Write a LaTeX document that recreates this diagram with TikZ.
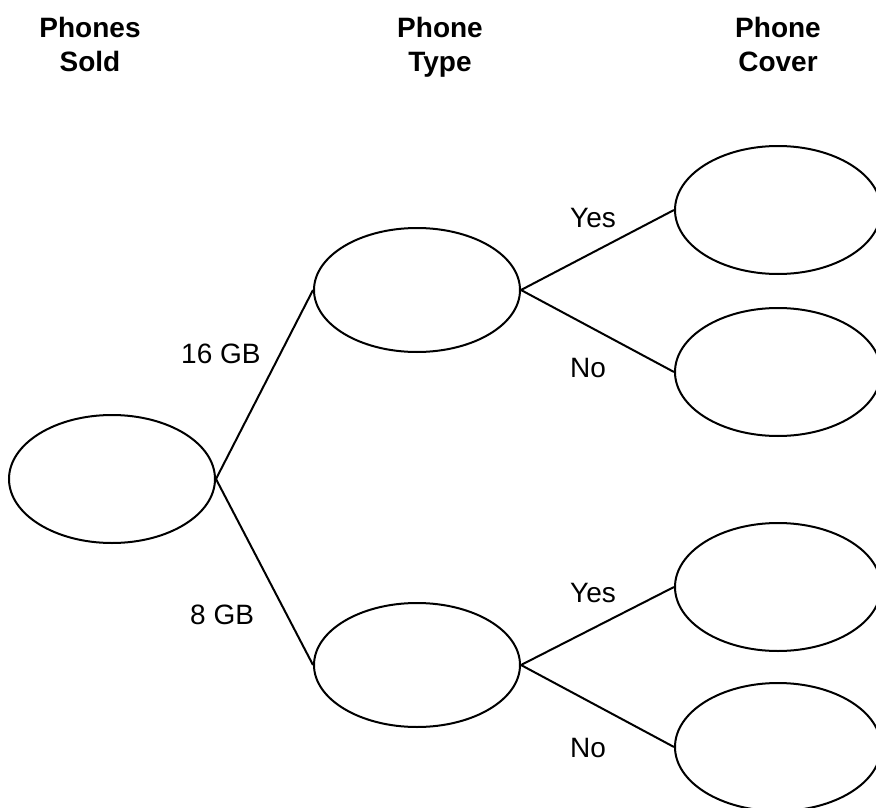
\documentclass[tikz,border=0pt]{standalone}
\usepackage{fontspec}
\setmainfont{Liberation Sans}
\usetikzlibrary{shapes.geometric}
\begin{document}
\begin{tikzpicture}[x=1pt,y=-1pt,
  oval/.style={ellipse,draw,line width=2pt,minimum width=206pt,minimum height=128pt,inner sep=0pt},
  branch/.style={line width=2pt},
  header/.style={font=\fontsize{28}{35}\selectfont\bfseries,align=center,anchor=base},
  lbl/.style={font=\fontsize{28}{34}\selectfont,anchor=base west,inner sep=0pt}]
\useasboundingbox (0,0) rectangle (876,808);
\clip (0,0) rectangle (876,808);
% column headers (anchored at the baseline of their second line)
\node[header] (h1) at (90,72) {Phones\\Sold};
\node[header] (h2) at (440,72) {Phone\\Type};
\node[header] (h3) at (778,72) {Phone\\Cover};
% tree nodes
\node[oval] (root) at (112,479) {};
\node[oval,minimum height=124pt] (m1) at (417,290) {};
\node[oval,minimum height=124pt] (m2) at (417,665) {};
\node[oval] (r1) at (778,210) {};
\node[oval] (r2) at (778,372) {};
\node[oval] (r3) at (778,587) {};
\node[oval] (r4) at (778,747) {};
% branches
\draw[branch] (root.east) -- (m1.west);
\draw[branch] (root.east) -- (m2.west);
\draw[branch] (m1.east) -- (r1.west);
\draw[branch] (m1.east) -- (r2.west);
\draw[branch] (m2.east) -- (r3.west);
\draw[branch] (m2.east) -- (r4.west);
% branch labels
\node[lbl] (l16) at (181,363) {16 GB};
\node[lbl] (l8) at (190,624) {8 GB};
\node[lbl] (y1) at (570,227) {Yes};
\node[lbl] (n1) at (570,377) {No};
\node[lbl] (y2) at (570,602) {Yes};
\node[lbl] (n2) at (570,757) {No};
\end{tikzpicture}
\end{document}
